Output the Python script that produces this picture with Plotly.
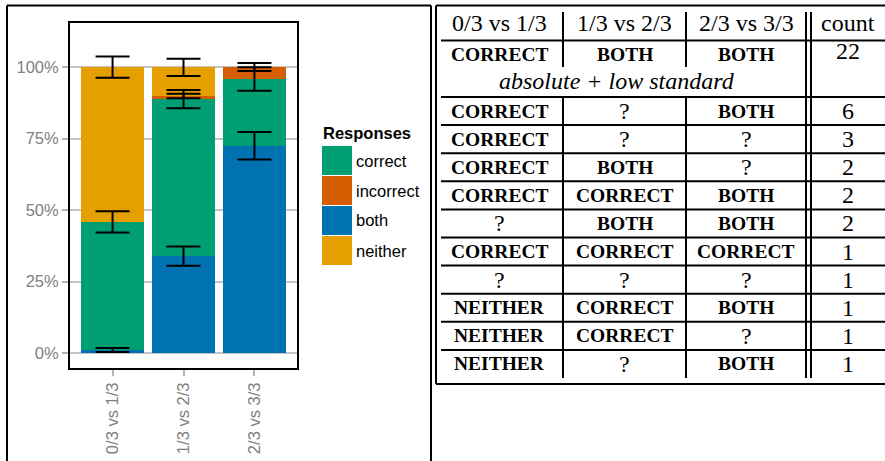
import numpy as np
import plotly.graph_objects as go

# ---------------- data ----------------
categories = ["0/3 vs 1/3", "1/3 vs 2/3", "2/3 vs 3/3"]
responses = ["both", "correct", "incorrect", "neither"]  # stacking order bottom -> top
legend_order = ["correct", "incorrect", "both", "neither"]
colors = {"correct": "#009E73", "incorrect": "#D55E00", "both": "#0072B2", "neither": "#E69F00"}

share_both = [0.011, 0.339, 0.725]
share_correct = [0.448, 0.549, 0.233]
share_incorrect = [0.000, 0.011, 0.042]
share_neither = [0.541, 0.100, 0.000]

err_both = [0.007, 0.034, 0.048]
err_correct = [0.037, 0.032, 0.041]
err_incorrect = [0.000, 0.008, 0.014]
err_neither = [0.037, 0.030, 0.000]

y_tickvals = [0, 0.25, 0.5, 0.75, 1.0]
y_ticktext = ["0%", "25%", "50%", "75%", "100%"]

table_header = ["0/3 vs 1/3", "1/3 vs 2/3", "2/3 vs 3/3", "count"]
first_row = ["CORRECT", "BOTH", "BOTH"]
first_count = 22
group_label = "absolute + low standard"
col1 = ["CORRECT", "CORRECT", "CORRECT", "CORRECT", "?", "CORRECT", "?", "NEITHER", "NEITHER", "NEITHER"]
col2 = ["?", "?", "BOTH", "CORRECT", "BOTH", "CORRECT", "?", "CORRECT", "CORRECT", "?"]
col3 = ["BOTH", "?", "?", "BOTH", "BOTH", "CORRECT", "?", "BOTH", "?", "BOTH"]
counts = [6, 3, 2, 2, 2, 1, 1, 1, 1, 1]

shares = {"both": share_both, "correct": share_correct, "incorrect": share_incorrect, "neither": share_neither}
errs = {"both": err_both, "correct": err_correct, "incorrect": err_incorrect, "neither": err_neither}

# ---------------- layout helpers ----------------
W, H = 885, 461


def px(x):
    return x / W


def py(y):
    return 1 - y / H


fig = go.Figure()

for r in responses:
    fig.add_trace(go.Bar(x=categories, y=shares[r], name=r, marker=dict(color=colors[r], line=dict(width=0)),
                         showlegend=False))

cum = np.cumsum(np.array([shares[r] for r in responses]), axis=0)
for i, r in enumerate(responses):
    present = np.array(shares[r]) > 0
    ys = [float(v) if p else None for v, p in zip(cum[i], present)]
    fig.add_trace(go.Scatter(x=categories, y=ys, mode="markers", marker=dict(size=1, opacity=0),
                             error_y=dict(type="data", array=errs[r], color="black", thickness=2, width=17),
                             showlegend=False, hoverinfo="skip"))

shapes = []
annotations = []


def line(x0, y0, x1, y1, w=2, color="black"):
    shapes.append(dict(type="line", xref="paper", yref="paper", x0=px(x0), y0=py(y0), x1=px(x1), y1=py(y1),
                       line=dict(color=color, width=w)))


def text(x, y, s, size, bold=False, italic=False, family="Liberation Serif", color="black", xanchor="center"):
    if bold:
        s = "<b>" + s + "</b>"
    if italic:
        s = "<i>" + s + "</i>"
    annotations.append(dict(x=px(x), y=py(y), xref="paper", yref="paper", text=s, showarrow=False,
                            xanchor=xanchor, yanchor="middle", font=dict(family=family, size=size, color=color)))


# left panel frame
line(7, 5.5, 431, 5.5)
line(7, 5.5, 7, 470)
line(431, 5.5, 431, 470)

# legend (manual)
text(321, 133, "Responses", 16.5, bold=True, family="Liberation Sans", xanchor="left")
for k, r in enumerate(legend_order):
    y0 = 146 + 30 * k
    shapes.append(dict(type="rect", xref="paper", yref="paper", x0=px(322), x1=px(352), y0=py(y0), y1=py(y0 + 29),
                       fillcolor=colors[r], line=dict(width=0)))
    text(354, y0 + 14.5, r, 16.5, family="Liberation Sans", xanchor="left")

# table frame
line(436, 5.5, 890, 5.5)
line(436, 5.5, 436, 384)
line(436, 384, 890, 384)

col_x = [499.5, 624.5, 746, 848]
# header
for c, h in enumerate(table_header):
    text(col_x[c], 23, h, 24)
line(441, 40.5, 890, 40.5)
# first row (merged count)
for c, v in enumerate(first_row):
    text(col_x[c], 54, v, 19.5, bold=True)
text(col_x[3], 51, str(first_count), 24)
text(617, 81, group_label, 24, italic=True)
line(441, 97, 890, 97)

row_h = 28.1
for i in range(len(counts)):
    top = 97 + row_h * i
    cy = top + row_h / 2
    for c, v in enumerate([col1[i], col2[i], col3[i]]):
        if v == "?":
            text(col_x[c], cy, v, 24)
        else:
            text(col_x[c], cy, v, 19.5, bold=True)
    text(col_x[3], cy, str(counts[i]), 24)
    if i < len(counts) - 1:
        line(441, top + row_h, 890, top + row_h)

for xv in [563, 686]:
    line(xv, 12, xv, 67)
    line(xv, 97, xv, 378)
for xv in [806, 811]:
    line(xv, 12, xv, 378)

fig.update_layout(
    width=W, height=H, margin=dict(l=0, r=0, t=0, b=0),
    paper_bgcolor="white", plot_bgcolor="white",
    barmode="stack", bargap=0.1,
    shapes=shapes, annotations=annotations, showlegend=False,
    xaxis=dict(domain=[px(70), px(297)], type="category", range=[-0.6, 2.6],
               showline=True, linecolor="black", linewidth=2, mirror=True,
               ticks="outside", ticklen=6, tickcolor="#b5b5b5", tickwidth=2,
               tickangle=-90, tickfont=dict(family="Liberation Sans", size=16.5, color="#808080"),
               showgrid=False, zeroline=False),
    yaxis=dict(domain=[py(368), py(23)], range=[-0.052, 1.154],
               tickvals=y_tickvals, ticktext=y_ticktext,
               showline=True, linecolor="black", linewidth=2, mirror=True,
               ticks="outside", ticklen=6, tickcolor="#b5b5b5", tickwidth=2,
               tickfont=dict(family="Liberation Sans", size=16.5, color="#808080"),
               showgrid=True, gridcolor="#c4c4c4", gridwidth=2, zeroline=False),
)

fig.write_html("out.html", config={"displayModeBar": False},
               post_script="document.body.style.margin='0';document.body.style.overflow='hidden';")
